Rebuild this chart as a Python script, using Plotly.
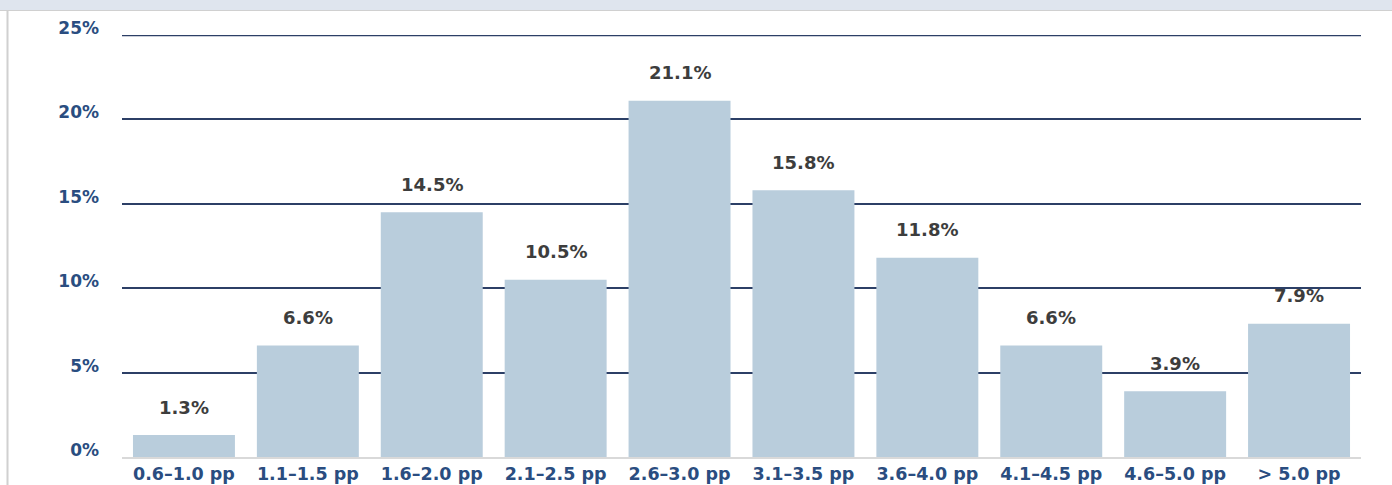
import plotly.graph_objects as go

categories = ["0.6–1.0 pp", "1.1–1.5 pp", "1.6–2.0 pp", "2.1–2.5 pp", "2.6–3.0 pp",
              "3.1–3.5 pp", "3.6–4.0 pp", "4.1–4.5 pp", "4.6–5.0 pp", "> 5.0 pp"]
values = [1.3, 6.6, 14.5, 10.5, 21.1, 15.8, 11.8, 6.6, 3.9, 7.9]
y_ticks = [0, 5, 10, 15, 20, 25]
y_tick_labels = ["0%", "5%", "10%", "15%", "20%", "25%"]

BAR = "#b9cddc"
NAVY = "#2a4d80"
GRID = "#2c3f66"
LABEL = "#3d3d3d"
FONT = "DejaVu Sans"

fig = go.Figure()
fig.add_trace(go.Bar(x=categories, y=values, marker=dict(color=BAR, line=dict(width=0)),
                     hoverinfo="skip"))

for c, v in zip(categories, values):
    fig.add_annotation(x=c, y=v, xref="x", yref="y", text=f"{v:.1f}%", showarrow=False,
                       yshift=28, font=dict(family=FONT, size=18, color=LABEL, weight="bold"))

fig.update_layout(
    width=1392, height=485,
    margin=dict(l=122, r=31, t=35, b=28),
    paper_bgcolor="white", plot_bgcolor="white",
    bargap=0.177, showlegend=False,
    shapes=[
        dict(type="rect", xref="paper", yref="paper", x0=-122/1239, x1=1 + 31/1239,
             y0=1 + 25/422, y1=1 + 35/422, fillcolor="#dfe5ee", line=dict(width=0), layer="below"),
        dict(type="line", xref="paper", yref="paper", x0=-122/1239, x1=1 + 31/1239,
             y0=1 + 24.5/422, y1=1 + 24.5/422, line=dict(color="#d0d0d0", width=1)),
        dict(type="line", xref="paper", yref="paper", x0=-114.5/1239, x1=-114.5/1239,
             y0=-28/422, y1=1 + 25/422, line=dict(color="#d0d0d0", width=2)),
        dict(type="line", xref="paper", yref="y", x0=0, x1=1, y0=y_ticks[-1], y1=y_ticks[-1],
             line=dict(color=GRID, width=2.5), layer="above"),
    ],
)
fig.update_xaxes(type="category", showgrid=False, showline=True, linecolor="#d9d9d9",
                 linewidth=2, ticks="", automargin=False,
                 tickfont=dict(family=FONT, size=17.5, color=NAVY, weight="bold"),
                 fixedrange=True)
fig.update_yaxes(range=[0, 25], tickvals=y_ticks, ticktext=y_tick_labels,
                 showgrid=True, gridcolor=GRID, gridwidth=1.5, zeroline=False,
                 ticklabelposition="outside", ticklabelshift=-7, ticklabelstandoff=22,
                 automargin=False,
                 tickfont=dict(family=FONT, size=17, color=NAVY, weight="bold"),
                 fixedrange=True)

fig.write_html("out.html")
